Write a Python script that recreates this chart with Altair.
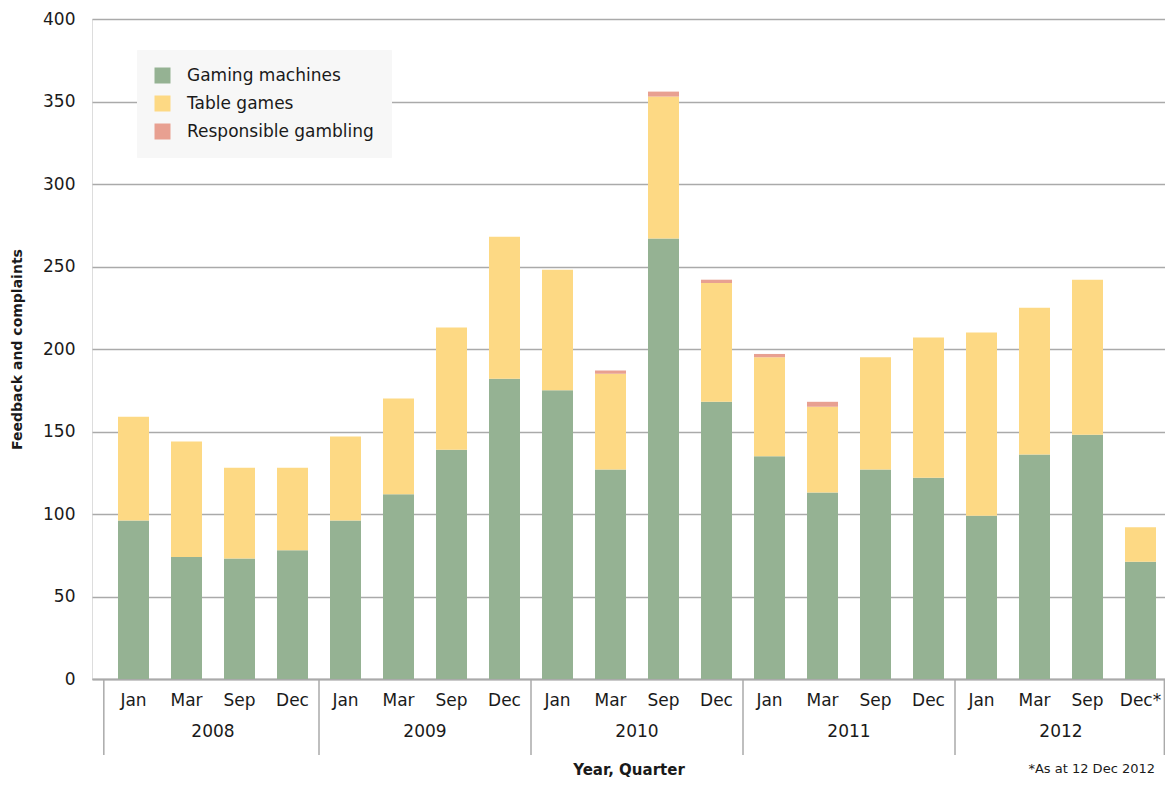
import altair as alt
import pandas as pd

# ---- data ----
years = ["2008", "2009", "2010", "2011", "2012"]
month_labels = ["Jan", "Mar", "Sep", "Dec"] * 4 + ["Jan", "Mar", "Sep", "Dec*"]
gaming = [96, 74, 73, 78, 96, 112, 139, 182, 175, 127, 267, 168, 135, 113, 127, 122, 99, 136, 148, 71]
table = [63, 70, 55, 50, 51, 58, 74, 86, 73, 58, 86, 72, 60, 52, 68, 85, 111, 89, 94, 21]
resp = [0, 0, 0, 0, 0, 0, 0, 0, 0, 2, 3, 2, 2, 3, 0, 0, 0, 0, 0, 0]
categories = ["Gaming machines", "Table games", "Responsible gambling"]
colors = ["#95b293", "#fdd984", "#e8a091"]
year_boundaries = [-0.56, 3.5, 7.5, 11.5, 15.5, 19.45]
note = ["*As at 12 Dec 2012"]

FONT = "DejaVu Sans"
TXT = "#1a1a1a"
FS = 17
BG = "#f5f5f5"

rows = []
for i in range(len(gaming)):
    for k, (cat, vals) in enumerate(zip(categories, [gaming, table, resp])):
        if vals[i] > 0:
            rows.append({"idx": i, "cat": cat, "value": vals[i], "ord": k})
df = pd.DataFrame(rows)

df_m = pd.DataFrame({"idx": list(range(len(month_labels))), "label": month_labels})
df_y = pd.DataFrame({"idx": [1.5 + 4 * k for k in range(len(years))], "label": years})
df_s = pd.DataFrame({"idx": year_boundaries})
df_n = pd.DataFrame({"label": note})

W, H = 1073, 660
xscale = alt.Scale(domain=[-0.783, -0.783 + W / 53.0], nice=False, zero=False, padding=0)
xaxis = alt.Axis(labels=False, ticks=False, grid=False, domain=True,
                 domainColor="#aaaaaa", domainWidth=2,
                 title="Year, Quarter", titlePadding=83,
                 titleFont=FONT, titleFontSize=15, titleFontWeight="bold",
                 titleColor=TXT)


def X():
    return alt.X("idx:Q", scale=xscale, axis=xaxis)


bars = alt.Chart(df).mark_bar(size=31).encode(
    x=X(),
    y=alt.Y("value:Q", stack="zero",
            scale=alt.Scale(domain=[0, 400], nice=False, padding=0),
            axis=alt.Axis(values=list(range(0, 401, 50)), ticks=False, domain=False,
                          grid=True, gridColor="#aaaaaa", gridWidth=1.5,
                          labelFont=FONT, labelFontSize=FS, labelColor=TXT,
                          labelPadding=17,
                          title="Feedback and complaints", titleFont=FONT,
                          titleFontSize=14, titleFontWeight="bold", titleColor=TXT,
                          titleX=-75, titleY=330, titleAngle=-90,
                          titleAlign="center", titleBaseline="middle")),
    color=alt.Color("cat:N", scale=alt.Scale(domain=categories, range=colors),
                    legend=alt.Legend(title=None, orient="none", legendX=45, legendY=31,
                                      fillColor="#f7f7f7", strokeColor="#f7f7f7",
                                      padding=17,
                                      symbolType="square", symbolSize=256,
                                      symbolStrokeWidth=0, labelFont=FONT,
                                      labelFontSize=FS, labelColor=TXT, labelLimit=400,
                                      labelOffset=16, rowPadding=10)),
    order=alt.Order("ord:Q"),
)

months = alt.Chart(df_m).mark_text(font=FONT, fontSize=FS, color=TXT, baseline="middle").encode(
    x=X(),
    y=alt.value(682),
    text="label:N",
)

yrs = alt.Chart(df_y).mark_text(font=FONT, fontSize=FS, color=TXT, baseline="middle").encode(
    x=X(),
    y=alt.value(713),
    text="label:N",
)

seps = alt.Chart(df_s).mark_rule(color="#aaaaaa", strokeWidth=1.5).encode(
    x=X(),
    y=alt.value(660),
    y2=alt.value(736),
)

note_t = alt.Chart(df_n).mark_text(font=FONT, fontSize=13, color=TXT, align="right",
                                   baseline="middle").encode(
    x=alt.value(1063),
    y=alt.value(750),
    text="label:N",
)

chart = alt.layer(bars, seps, months, yrs, note_t).properties(
    width=W, height=H,
    autosize=alt.AutoSizeParams(type="none"),
    padding={"left": 84, "top": 11, "right": 0, "bottom": 98},
).configure_view(fill=BG, stroke=None).configure(background="white")

chart.save("out.html", embed_options={"renderer": "svg", "actions": False})
